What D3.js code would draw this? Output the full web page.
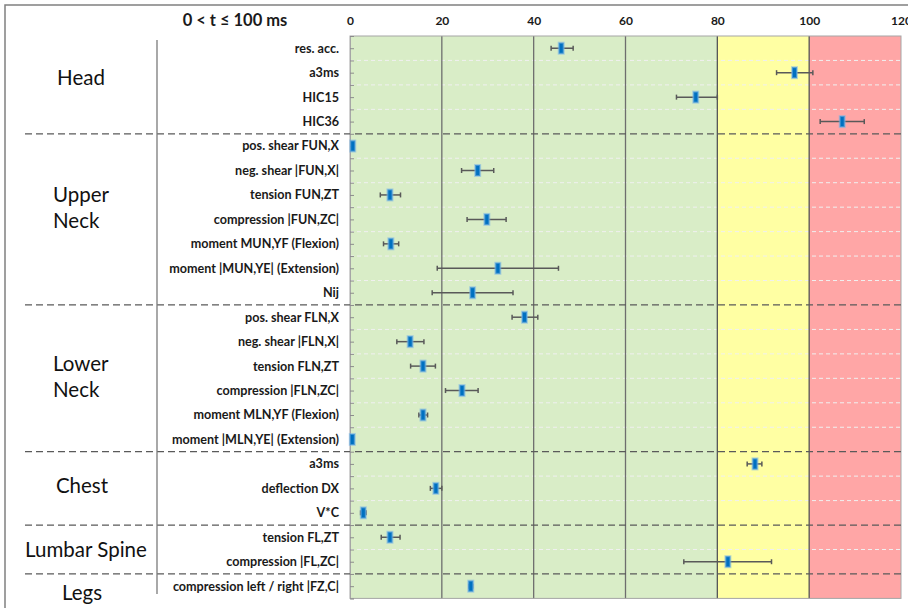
<!DOCTYPE html>
<html>
<head>
<meta charset="utf-8">
<script src="https://cdn.jsdelivr.net/npm/d3@7"></script>
<style>
  body { margin: 0; background: #fff; }
  svg { display: block; }
</style>
</head>
<body>
<div id="chart-area"></div>
<script>
//============================ DATA ============================
var groups = ["Head", "Upper Neck", "Lower Neck", "Chest", "Lumbar Spine", "Legs"];
var groupSizes = [4, 7, 6, 3, 2, 1];

var rowLabels = [
  "res. acc.", "a3ms", "HIC15", "HIC36",
  "pos. shear FUN,X", "neg. shear |FUN,X|", "tension FUN,ZT", "compression |FUN,ZC|",
  "moment MUN,YF (Flexion)", "moment |MUN,YE| (Extension)", "Nij",
  "pos. shear FLN,X", "neg. shear |FLN,X|", "tension FLN,ZT", "compression |FLN,ZC|",
  "moment MLN,YF (Flexion)", "moment |MLN,YE| (Extension)",
  "a3ms", "deflection DX", "V*C",
  "tension FL,ZT", "compression |FL,ZC|",
  "compression left / right |FZ,C|"
];

// mean value (% of limit) and the min / max of the whisker
var values  = [46.0, 96.8, 75.3, 107.2, 0.6, 27.8, 8.7, 29.8, 8.9, 32.2, 26.7, 38.0, 13.1, 15.9, 24.4, 15.9, 0.5, 88.2, 18.7, 2.9, 8.7, 82.3, 26.3];
var errLow  = [43.8, 92.9, 71.1, 102.4, 0.6, 24.3, 6.6, 25.5, 7.3, 19.0, 17.9, 35.3, 10.2, 13.2, 20.8, 15.0, 0.5, 86.5, 17.5, 2.3, 6.8, 72.7, 25.9];
var errHigh = [48.6, 100.8, 80.0, 112.0, 0.6, 31.3, 11.0, 34.0, 10.6, 45.4, 35.5, 40.9, 16.1, 18.6, 27.9, 16.9, 0.5, 89.7, 20.0, 3.5, 10.9, 91.8, 26.7];

var xTicks = [0, 20, 40, 60, 80, 100, 120];
var zoneBounds = [0, 80, 100, 120];
var title = "0 < t \u2264 100 ms";

//============================ LAYOUT ============================
var W = 908, H = 608;
var plot = { left: 350, right: 901, top: 36, bottom: 598.4 };
var zoneColors = ["#d9edc7", "#ffffa3", "#ffa6a6"];
var font = "Lato, 'Open Sans', sans-serif";
// vertical nudge of each group label relative to the group centre
var groupDy = [-7, -12, -2, -3, 0, 7];
var groupAnchor = ["middle", "start", "start", "middle", "middle", "middle"];
var groupX = [81, 53, 53, 82, 86, 82];

var svg = d3.select("#chart-area").append("svg")
  .attr("width", W).attr("height", H);

var x = d3.scaleLinear().domain([0, 120]).range([plot.left, plot.right]);
var y = d3.scaleLinear().domain([0, rowLabels.length]).range([plot.top, plot.bottom]);

// outer frame (top and left edge only visible)
svg.append("path")
  .attr("d", "M5," + H + "V5H" + W)
  .attr("fill", "none").attr("stroke", "#808080").attr("stroke-width", 1.5);

// coloured zones
svg.append("g").selectAll("rect")
  .data(d3.range(zoneBounds.length - 1))
  .enter().append("rect")
  .attr("x", function(i){ return x(zoneBounds[i]); })
  .attr("width", function(i){ return x(zoneBounds[i + 1]) - x(zoneBounds[i]); })
  .attr("y", plot.top).attr("height", plot.bottom - plot.top)
  .attr("fill", function(i){ return zoneColors[i]; });

// group boundaries
var groupStarts = [];
var acc = 0;
groupSizes.forEach(function(n){ groupStarts.push(acc); acc += n; });
var groupEndSet = {};
groupStarts.forEach(function(s, i){ groupEndSet[s + groupSizes[i]] = true; });

// light dashed row separators inside the plot
svg.append("g").selectAll("line")
  .data(d3.range(1, rowLabels.length).filter(function(i){ return !groupEndSet[i]; }))
  .enter().append("line")
  .attr("x1", plot.left).attr("x2", plot.right)
  .attr("y1", function(i){ return y(i); }).attr("y2", function(i){ return y(i); })
  .attr("stroke", "#f0f0f0").attr("stroke-width", 1)
  .attr("stroke-dasharray", "4,3");

// vertical grid lines
svg.append("g").selectAll("line")
  .data(xTicks.slice(1, -1))
  .enter().append("line")
  .attr("x1", function(d){ return x(d); }).attr("x2", function(d){ return x(d); })
  .attr("y1", plot.top).attr("y2", plot.bottom)
  .attr("stroke", function(d){ return zoneBounds.indexOf(d) >= 0 ? "#555" : "#6e6e6e"; })
  .attr("stroke-width", 1.3);

// plot border
svg.append("rect")
  .attr("x", plot.left).attr("y", plot.top)
  .attr("width", plot.right - plot.left).attr("height", plot.bottom - plot.top)
  .attr("fill", "none").attr("stroke", "#a6a6a6").attr("stroke-width", 1);

// group separators (dark dashed)
svg.append("g").selectAll("line")
  .data(groupStarts.slice(1))
  .enter().append("line")
  .attr("x1", 25).attr("x2", plot.right)
  .attr("y1", function(i){ return y(i); }).attr("y2", function(i){ return y(i); })
  .attr("stroke", "#5a5a5a").attr("stroke-width", 1.2)
  .attr("stroke-dasharray", "7,4");

// separator between group names and row names
svg.append("line")
  .attr("x1", 157).attr("x2", 157).attr("y1", 40).attr("y2", 594)
  .attr("stroke", "#7a7a7a").attr("stroke-width", 1.3);

// left axis: ticks on every half row, pointing into the plot
var yAxis = d3.axisRight(y)
  .tickValues(d3.range(0, rowLabels.length + 0.5, 0.5))
  .tickSize(4).tickFormat("");
var ya = svg.append("g").attr("transform", "translate(" + plot.left + ",0)").call(yAxis);
ya.select(".domain").attr("stroke", "#a6a6a6");
ya.selectAll(".tick line").attr("stroke", "#8c8c8c");

// top axis labels
var xAxis = d3.axisTop(x).tickValues(xTicks).tickSize(0).tickPadding(0);
var xa = svg.append("g").attr("transform", "translate(0,25)").call(xAxis);
xa.select(".domain").remove();
xa.selectAll("text")
  .attr("font-family", font)
  .attr("font-weight", "bold").attr("font-size", "12px").attr("fill", "#1a1a1a");

// title
svg.append("text")
  .attr("x", 235).attr("y", 26)
  .attr("text-anchor", "middle")
  .attr("font-family", font)
  .attr("font-weight", "bold").attr("font-size", "16.5px").attr("fill", "#1a1a1a")
  .text(title);

// row labels
svg.append("g").selectAll("text")
  .data(rowLabels)
  .enter().append("text")
  .attr("x", 339)
  .attr("y", function(d, i){ return y(i + 0.5); })
  .attr("dy", "0.35em")
  .attr("text-anchor", "end")
  .attr("font-family", font)
  .attr("font-weight", "bold").attr("font-size", "12.6px").attr("fill", "#1a1a1a")
  .text(function(d){ return d; });

// group labels
var gl = svg.append("g").selectAll("text")
  .data(groups)
  .enter().append("text")
  .attr("x", function(d, i){ return groupX[i]; })
  .attr("y", function(d, i){ return y(groupStarts[i] + groupSizes[i] / 2) + groupDy[i]; })
  .attr("text-anchor", function(d, i){ return groupAnchor[i]; })
  .attr("font-family", font)
  .attr("font-size", "20.5px").attr("fill", "#111");
gl.each(function(d, i){
  var t = d3.select(this);
  var words = (groupAnchor[i] === "start") ? d.split(" ") : [d];
  words.forEach(function(w, k){
    t.append("tspan")
      .attr("x", groupX[i])
      .attr("dy", k === 0 ? (0.35 - (words.length - 1) * 0.6) + "em" : "1.25em")
      .text(w);
  });
});

// error bars with end caps
var bars = svg.append("g");
values.forEach(function(v, i){
  if (errHigh[i] - errLow[i] < 0.1) return;
  var cy = y(i + 0.5);
  bars.append("line")
    .attr("x1", x(errLow[i])).attr("x2", x(errHigh[i]))
    .attr("y1", cy).attr("y2", cy)
    .attr("stroke", "#595959").attr("stroke-width", 1.5);
  [errLow[i], errHigh[i]].forEach(function(e){
    bars.append("line")
      .attr("x1", x(e)).attr("x2", x(e))
      .attr("y1", cy - 2.5).attr("y2", cy + 2.5)
      .attr("stroke", "#595959").attr("stroke-width", 1.5);
  });
});

// markers
svg.append("g").selectAll("rect")
  .data(values)
  .enter().append("rect")
  .attr("x", function(d){ return x(d) - 2.5; })
  .attr("y", function(d, i){ return y(i + 0.5) - 5.5; })
  .attr("width", 5).attr("height", 11)
  .attr("fill", "#0070c0")
  .attr("stroke", "rgba(120,180,230,0.55)").attr("stroke-width", 2);
</script>
</body>
</html>
